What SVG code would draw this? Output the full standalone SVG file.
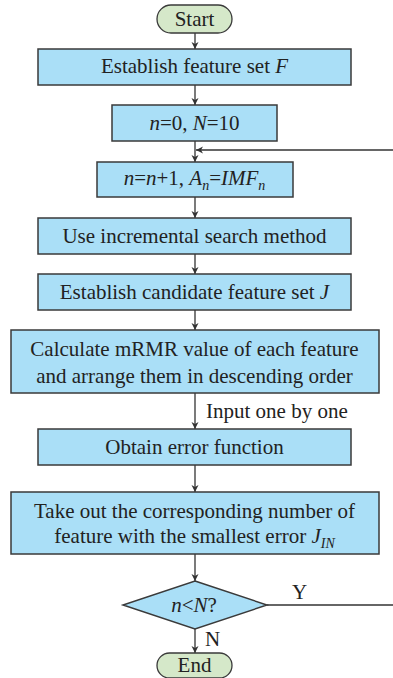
<svg xmlns="http://www.w3.org/2000/svg" width="393" height="678" viewBox="0 0 393 678">
<defs>
<marker id="ah" markerWidth="8" markerHeight="8" refX="7" refY="4" orient="auto" markerUnits="userSpaceOnUse">
<path d="M0,0.5 L7,4 L0,7.5 L2,4 Z" fill="#333"/>
</marker>
</defs>
<style>
.box{fill:#aadff7;stroke:#3a3a3a;stroke-width:1.5}
.term{fill:#d5e8c9;stroke:#3a3a3a;stroke-width:1.3}
.t{font-family:"Liberation Serif","Times New Roman",serif;font-size:21px;fill:#222;text-anchor:middle}
.l{font-family:"Liberation Serif","Times New Roman",serif;font-size:21px;fill:#222}
.c{stroke:#333;stroke-width:1.3;fill:none}
.ca{stroke:#333;stroke-width:1.3;fill:none;marker-end:url(#ah)}
</style>
<rect width="393" height="678" fill="#fff"/>
<g id="connectors">
<line class="ca" x1="195" y1="33" x2="195" y2="49"/>
<line class="ca" x1="195" y1="85" x2="195" y2="105"/>
<line class="ca" x1="195" y1="141" x2="195" y2="162"/>
<line class="ca" x1="393" y1="150" x2="196" y2="150"/>
<line class="ca" x1="195" y1="197" x2="195" y2="218"/>
<line class="ca" x1="195" y1="254" x2="195" y2="274"/>
<line class="ca" x1="195" y1="310" x2="195" y2="330"/>
<line class="ca" x1="195" y1="393" x2="195" y2="429"/>
<line class="ca" x1="195" y1="465" x2="195" y2="492"/>
<line class="ca" x1="195" y1="554" x2="195" y2="581"/>
<line class="c" x1="267" y1="605" x2="393" y2="605"/>
<line class="ca" x1="195" y1="629" x2="195" y2="653"/>
<text class="l" x="206" y="418">Input one by one</text>
<text class="l" x="292" y="599">Y</text>
<text class="l" x="205" y="646">N</text>
</g>
<g id="start">
<rect class="term" x="157" y="5" width="75" height="28" rx="14"/>
<text class="t" x="194.5" y="26">Start</text>
</g>
<g id="featureSet">
<rect class="box" x="38" y="49" width="313" height="36"/>
<text class="t" x="194.5" y="73">Establish feature set <tspan font-style="italic">F</tspan></text>
</g>
<g id="init">
<rect class="box" x="112" y="105" width="165" height="36"/>
<text class="t" x="194.5" y="130"><tspan font-style="italic">n</tspan>=0, <tspan font-style="italic">N</tspan>=10</text>
</g>
<g id="increment">
<rect class="box" x="97" y="162" width="196" height="35"/>
<text class="t" x="194.5" y="185"><tspan font-style="italic">n</tspan>=<tspan font-style="italic">n</tspan>+1, <tspan font-style="italic">A</tspan><tspan font-style="italic" font-size="14" dy="5">n</tspan><tspan dy="-5">=</tspan><tspan font-style="italic">IMF</tspan><tspan font-style="italic" font-size="14" dy="5">n</tspan></text>
</g>
<g id="search">
<rect class="box" x="38" y="218" width="313" height="36"/>
<text class="t" x="194.5" y="243">Use incremental search method</text>
</g>
<g id="candidate">
<rect class="box" x="38" y="274" width="313" height="36"/>
<text class="t" x="194.5" y="299">Establish candidate feature set <tspan font-style="italic">J</tspan></text>
</g>
<g id="mrmr">
<rect class="box" x="11" y="330" width="368" height="63"/>
<text class="t" x="194.5" y="356">Calculate mRMR value of each feature</text>
<text class="t" x="194.5" y="383">and arrange them in descending order</text>
</g>
<g id="error">
<rect class="box" x="38" y="429" width="313" height="36"/>
<text class="t" x="194.5" y="454">Obtain error function</text>
</g>
<g id="takeout">
<rect class="box" x="11" y="492" width="368" height="62"/>
<text class="t" x="194.5" y="518">Take out the corresponding number of</text>
<text class="t" x="194.5" y="543">feature with the smallest error <tspan font-style="italic">J</tspan><tspan font-style="italic" font-size="14" dy="5">IN</tspan></text>
</g>
<g id="decision">
<polygon class="box" points="195,581 267,605 195,629 123,605"/>
<text class="t" x="194" y="612"><tspan font-style="italic">n</tspan>&lt;<tspan font-style="italic">N</tspan>?</text>
</g>
<g id="end">
<rect class="term" x="157" y="653" width="75" height="25" rx="12.5"/>
<text class="t" x="194.5" y="672">End</text>
</g>
</svg>
